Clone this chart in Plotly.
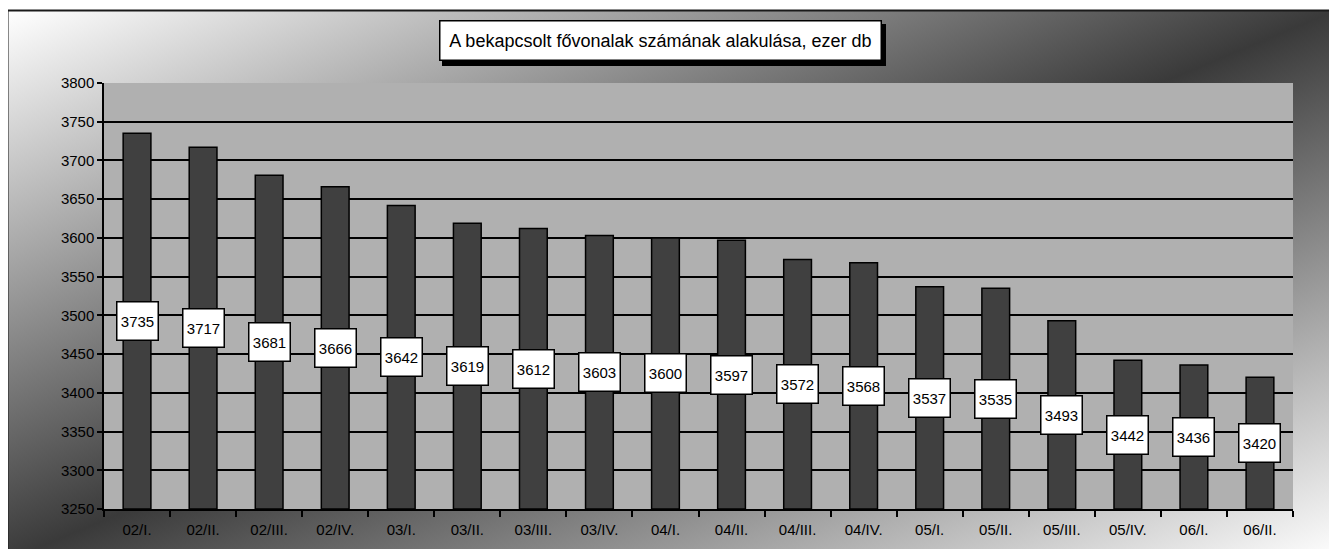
import base64
import plotly.graph_objects as go

# ---- data ----
categories = ["02/I.", "02/II.", "02/III.", "02/IV.", "03/I.", "03/II.", "03/III.", "03/IV.",
              "04/I.", "04/II.", "04/III.", "04/IV.", "05/I.", "05/II.", "05/III.", "05/IV.",
              "06/I.", "06/II."]
values = [3735, 3717, 3681, 3666, 3642, 3619, 3612, 3603, 3600, 3597, 3572, 3568,
          3537, 3535, 3493, 3442, 3436, 3420]
y_min, y_max, y_step = 3250, 3800, 50
title_text = "A bekapcsolt fővonalak számának alakulása, ezer db"

# ---- layout geometry (page pixels; the page body has an 8px margin) ----
OFF = 8
PAGE_W, PAGE_H = 1337, 549
W, H = PAGE_W - OFF, PAGE_H - OFF
PL, PR_EDGE, PT, PB_EDGE = 104, 1293, 83, 509   # plot area on the page
L = PL - OFF
T = PT - OFF
R = W - (PR_EDGE - OFF)
B = H - (PB_EDGE - OFF)
PW, PH = W - L - R, H - T - B


def px_x(p):  # page x -> paper
    return (p - OFF - L) / PW


def px_y(p):  # page y -> paper
    return (H - B - (p - OFF)) / PH


FONT = "Liberation Sans, Arial, sans-serif"

fig = go.Figure()
fig.add_trace(go.Bar(
    x=categories,
    y=[v - y_min for v in values],
    base=y_min,
    width=0.42,
    marker=dict(color="#404040", line=dict(color="#000000", width=1.5)),
    hoverinfo="x+text",
    hovertext=[str(v) for v in values],
    showlegend=False,
))

# gradient background (SVG data URI)
svg = (
    "<svg xmlns='http://www.w3.org/2000/svg' width='1328' height='540' "
    "viewBox='0 0 1328 540' preserveAspectRatio='none'>"
    "<defs><linearGradient id='g' x1='0' y1='0' x2='1' y2='1'>"
    "<stop offset='0' stop-color='#ffffff'/>"
    "<stop offset='0.5' stop-color='#3a3a3a'/>"
    "<stop offset='1' stop-color='#ffffff'/>"
    "</linearGradient></defs>"
    "<rect width='1328' height='540' fill='url(#g)'/></svg>"
)
src = "data:image/svg+xml;base64," + base64.b64encode(svg.encode()).decode()

images = [dict(
    source=src, xref="paper", yref="paper",
    x=px_x(8), y=px_y(11), sizex=(1335 - 8) / PW, sizey=(560 - 11) / PH,
    xanchor="left", yanchor="top", sizing="stretch", layer="below",
)]

shapes = [
    # plot area fill
    dict(type="rect", xref="paper", yref="paper", x0=0, x1=1, y0=0, y1=1,
         fillcolor="#b0b0b0", line=dict(width=0), layer="below"),
    # outer frame
    dict(type="rect", xref="paper", yref="paper",
         x0=px_x(7.5), x1=px_x(1335.5), y0=px_y(560), y1=px_y(10.5),
         fillcolor="rgba(0,0,0,0)", line=dict(color="#1a1a1a", width=2), layer="above"),
    # title shadow
    dict(type="rect", xref="paper", yref="paper",
         x0=px_x(442), x1=px_x(886), y0=px_y(66), y1=px_y(24),
         fillcolor="#000000", line=dict(width=0), layer="above"),
]

annotations = [dict(
    text=title_text, xref="paper", yref="paper",
    x=px_x(660), y=px_y(41), xanchor="center", yanchor="middle",
    showarrow=False, font=dict(family=FONT, size=18, color="#000000"),
    bgcolor="#ffffff", bordercolor="#000000", borderwidth=1.5, borderpad=0,
    width=440, height=38,
)]

for c, v in zip(categories, values):
    annotations.append(dict(
        text=str(v), x=c, y=(v + y_min) / 2, xref="x", yref="y",
        showarrow=False, font=dict(family=FONT, size=15, color="#000000"),
        bgcolor="#ffffff", bordercolor="#000000", borderwidth=1.5, borderpad=1,
        width=38, height=35, xanchor="center", yanchor="middle",
    ))

fig.update_layout(
    width=W, height=H,
    margin=dict(l=L, r=R, t=T, b=B, pad=0),
    paper_bgcolor="#ffffff",
    plot_bgcolor="rgba(0,0,0,0)",
    images=images,
    shapes=shapes,
    annotations=annotations,
    showlegend=False,
    xaxis=dict(
        type="category", categoryorder="array", categoryarray=categories,
        showgrid=False, showline=True, linecolor="#000000", linewidth=1.5,
        ticks="outside", tickson="boundaries", ticklen=6, tickcolor="#000000",
        tickwidth=1.5, ticklabelstandoff=6,
        tickfont=dict(family=FONT, size=15, color="#000000"),
        zeroline=False, fixedrange=True,
    ),
    yaxis=dict(
        range=[y_min, y_max], dtick=y_step, tick0=y_min,
        showgrid=True, gridcolor="#000000", gridwidth=1.5,
        showline=True, linecolor="#000000", linewidth=1.5,
        ticks="outside", ticklen=5, tickcolor="#000000", tickwidth=1.5,
        tickfont=dict(family=FONT, size=15, color="#000000"),
        zeroline=False, fixedrange=True,
    ),
)

fig.write_html("out.html")
